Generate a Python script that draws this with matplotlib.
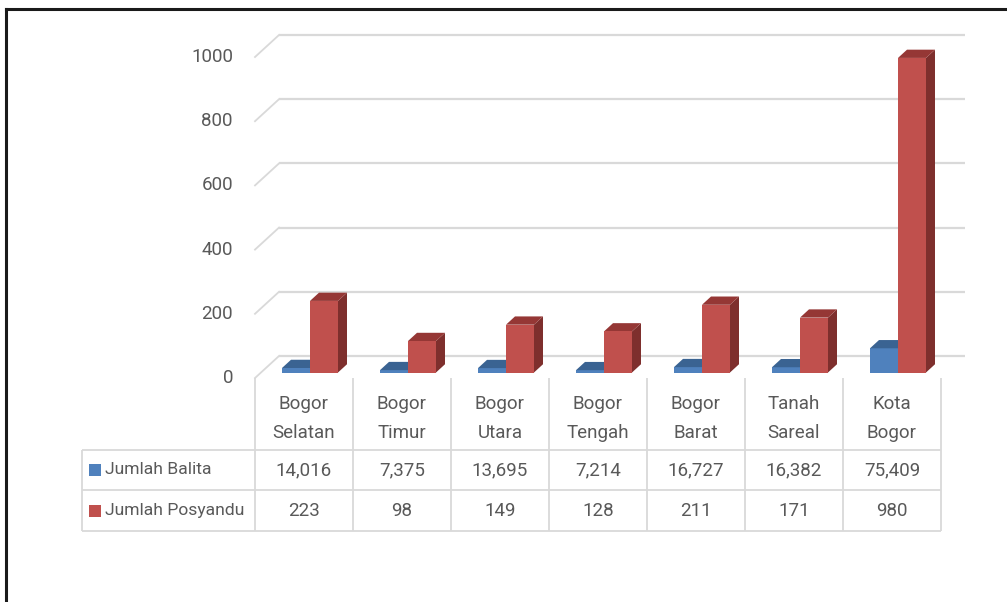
import matplotlib
matplotlib.use("Agg")
import matplotlib.pyplot as plt
from matplotlib.patches import Polygon, Rectangle
from matplotlib.lines import Line2D

# ---------------- data ----------------
categories = ["Bogor Selatan", "Bogor Timur", "Bogor Utara", "Bogor Tengah",
              "Bogor Barat", "Tanah Sareal", "Kota Bogor"]
series_names = ["Jumlah Balita", "Jumlah Posyandu"]
balita = [14016, 7375, 13695, 7214, 16727, 16382, 75409]
posyandu = [223, 98, 149, 128, 211, 171, 980]
yticks = [0, 200, 400, 600, 800, 1000]

# ---------------- style ----------------
W, H = 1007, 602
FONT = ["Roboto", "DejaVu Sans"]
TXT = "#595959"
GRID = "#D9D9D9"
BLUE_F, BLUE_T = "#4F81BD", "#3A6392"
RED_F, RED_S, RED_T = "#C0504D", "#7E2F2D", "#953735"
FS = 13.5
FS_LBL = 12.6

fig = plt.figure(figsize=(W / 100, H / 100), dpi=100)
fig.patch.set_facecolor("white")

# pixel geometry of the plot
X0, CW = 255, 98          # left edge of first category, category width (px)
Y0, PPU = 378, 0.321      # front-floor pixel row, pixels per unit
ax = fig.add_axes([0, 0, 1, 1])
ax.set_xlim((0 - X0) / CW - 0.5, (W - X0) / CW - 0.5)
ax.set_ylim((Y0 - H) / PPU, (Y0 - 0) / PPU)
ax.axis("off")

DX, DY = 24 / CW, 22 / PPU     # full depth of the floor
f_front, f_depth = 0.25, 0.375
bw = 28 / CW
x_right_back = (965 - X0) / CW - 0.5

# gridlines (back wall + left wall diagonals)
for v in yticks:
    ax.plot([-0.5 + DX, x_right_back], [v + DY, v + DY], color=GRID, lw=1.6,
            solid_capstyle="butt", zorder=1)
    ax.plot([-0.5, -0.5 + DX], [v, v + DY], color=GRID, lw=1.3, zorder=1)
    ax.text((233 - X0) / CW - 0.5, v, str(v), ha="right", va="center",
            fontsize=FS, color=TXT, family=FONT)

# bars
sx, sy = f_front * DX, f_front * DY
bx, by = f_depth * DX, f_depth * DY
n = len(categories)
for i in range(n):
    c = i + sx
    base = sy
    hb = balita[i] / 1000.0
    hp = posyandu[i]
    # blue (front-left)
    ax.bar(c - bw / 2, hb, width=bw, bottom=base, color=BLUE_F, lw=0, zorder=3)
    top = base + hb
    ax.add_patch(Polygon([(c - bw, top), (c, top), (c + bx, top + by),
                          (c - bw + bx, top + by)], closed=True,
                         facecolor=BLUE_T, lw=0, zorder=3))
    # red (right)
    top = base + hp
    ax.add_patch(Polygon([(c + bw, base), (c + bw + bx, base + by),
                          (c + bw + bx, top + by), (c + bw, top)], closed=True,
                         facecolor=RED_S, lw=0, zorder=4))
    ax.add_patch(Polygon([(c, top), (c + bw, top), (c + bw + bx, top + by),
                          (c + bx, top + by)], closed=True,
                         facecolor=RED_T, lw=0, zorder=4))
    ax.bar(c + bw / 2, hp, width=bw, bottom=base, color=RED_F, lw=0, zorder=5)

# ---------------- table & frame (pixel overlay) ----------------
tb = fig.add_axes([0, 0, 1, 1])
tb.set_xlim(0, W)
tb.set_ylim(H, 0)
tb.axis("off")
tb.patch.set_alpha(0)

col_edges = [X0 + CW * k for k in range(n + 1)]
TL = 82
R1, R2, R3 = 450, 490, 531
lkw = dict(color=GRID, lw=1.3, solid_capstyle="butt")
for xe in col_edges:
    tb.add_line(Line2D([xe, xe], [Y0, R3], **lkw))
tb.add_line(Line2D([TL, TL], [R1, R3], **lkw))
for yy in (R1, R2, R3):
    tb.add_line(Line2D([TL, col_edges[-1]], [yy, yy], **lkw))

for i, cat in enumerate(categories):
    cx = X0 + CW * (i + 0.5)
    w1, w2 = cat.split(" ", 1)
    tb.text(cx, 404, w1, ha="center", va="center", fontsize=FS, color=TXT, family=FONT)
    tb.text(cx, 433, w2, ha="center", va="center", fontsize=FS, color=TXT, family=FONT)
    tb.text(cx, (R1 + R2) / 2, f"{balita[i]:,}", ha="center", va="center",
            fontsize=FS, color=TXT, family=FONT)
    tb.text(cx, (R2 + R3) / 2, f"{posyandu[i]}", ha="center", va="center",
            fontsize=FS, color=TXT, family=FONT)

for (y_a, y_b), name, col in zip([(R1, R2), (R2, R3)], series_names, [BLUE_F, RED_F]):
    yc = (y_a + y_b) / 2
    tb.add_patch(Rectangle((89, yc - 6), 12, 12, facecolor=col, lw=0))
    tb.text(105, yc, name, ha="left", va="center", fontsize=FS_LBL, color=TXT, family=FONT)

# outer black frame (top and left)
tb.add_line(Line2D([5.5, W], [8.5, 8.5], color="#1a1a1a", lw=2.2))
tb.add_line(Line2D([5.5, 5.5], [8.5, H], color="#1a1a1a", lw=2.2))

fig.savefig("out.png", dpi=100, facecolor="white")
